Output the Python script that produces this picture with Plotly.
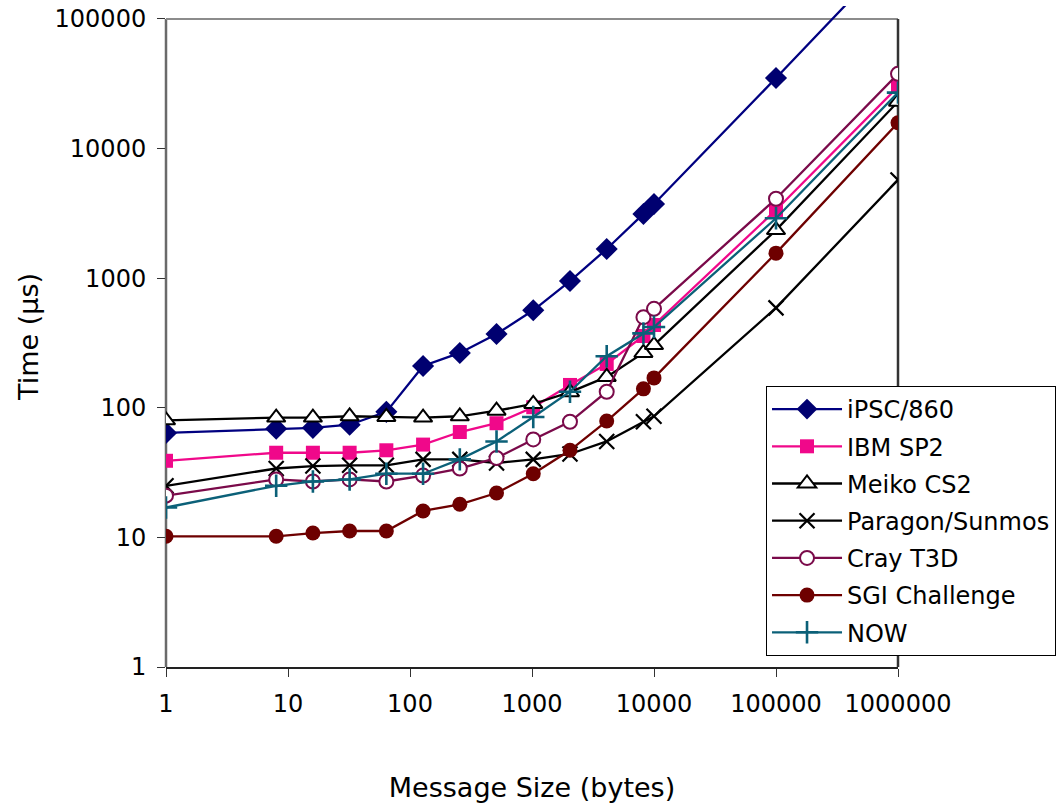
import plotly.graph_objects as go

sizes = [1, 8, 16, 32, 64, 128, 256, 512, 1024, 2048, 4096, 8192, 10000, 100000, 1000000]

ipsc860 = [64, 69, 70, 74, 93, 210, 265, 371, 565, 950, 1680, 3130, 3740, 35000, 340000]
ibm_sp2 = [39, 45, 45, 45, 47, 52, 65, 76, 101, 150, 218, 358, 435, 3360, 29900]
meiko_cs2 = [80, 84, 84, 86, 85, 84, 86, 95, 107, 132, 173, 265, 305, 2350, 23000]
paragon = [25, 34, 35.5, 36, 36, 40, 40, 37.5, 40, 44, 55, 78, 86, 590, 5730]
cray_t3d = [21, 28, 27, 28, 27, 30, 34, 41, 57, 78, 133, 500, 580, 4100, 37700]
sgi_challenge = [10.2, 10.2, 10.8, 11.2, 11.2, 16, 18, 22, 31, 47, 79, 140, 170, 1560, 15800]
now = [17, 25, 27, 28, 31, 31, 40, 55, 85, 133, 250, 375, 420, 2900, 27000]

x_tickvals = [1, 10, 100, 1000, 10000, 100000, 1000000]
x_ticktext = ["1", "10", "100", "1000", "10000", "100000", "1000000"]
y_tickvals = [1, 10, 100, 1000, 10000, 100000]
y_ticktext = ["1", "10", "100", "1000", "10000", "100000"]

FONT = "DejaVu Sans"

series = [
    ("iPSC/860", ipsc860, dict(color="#000070", line_color="#000070", symbol="diamond", size=17, lw=0), "#000080"),
    ("IBM SP2", ibm_sp2, dict(color="#F0088A", line_color="#F0088A", symbol="square", size=14, lw=0), "#F0088A"),
    ("Meiko CS2", meiko_cs2, dict(color="white", line_color="black", symbol="triangle-up", size=16, lw=2), "black"),
    ("Paragon/Sunmos", paragon, dict(color="black", line_color="black", symbol="x-thin", size=15, lw=2.2), "black"),
    ("Cray T3D", cray_t3d, dict(color="white", line_color="#7A0A4A", symbol="circle", size=14, lw=2), "#7A0A4A"),
    ("SGI Challenge", sgi_challenge, dict(color="#6E0000", line_color="#6E0000", symbol="circle", size=15, lw=0), "#6E0000"),
    ("NOW", now, dict(color="#0B6078", line_color="#0B6078", symbol="cross-thin", size=16, lw=2.6), "#0B6078"),
]

fig = go.Figure()
for i, (name, vals, m, lc) in enumerate(series):
    fig.add_trace(go.Scatter(
        x=sizes, y=vals, name=name, mode="lines+markers",
        legendgroup=f"g{i}",
        line=dict(color=lc, width=2.3),
        marker=dict(symbol=m["symbol"], size=m["size"], color=m["color"],
                    line=dict(color=m["line_color"], width=m["lw"])),
    ))

YMAX = 5.1
ytop = 5.0 / YMAX
frame = dict(xref="paper", yref="paper", layer="below")
fig.add_shape(type="line", x0=0, x1=0, y0=0, y1=ytop, line=dict(color="#6a6a6a", width=2.5), **frame)
fig.add_shape(type="line", x0=0, x1=1, y0=ytop, y1=ytop, line=dict(color="#8c8c8c", width=2), **frame)
fig.add_shape(type="line", x0=1, x1=1, y0=0, y1=ytop, line=dict(color="#333333", width=2.5), **frame)

fig.update_layout(
    width=1057, height=804,
    paper_bgcolor="white", plot_bgcolor="rgba(0,0,0,0)",
    margin=dict(l=166, r=159, t=6, b=137, autoexpand=False),
    font=dict(family=FONT, size=24, color="black"),
    showlegend=True,
    legend=dict(
        x=0.8197, y=0.4251, xanchor="left", yanchor="top",
        bgcolor="white", bordercolor="black", borderwidth=1,
        font=dict(family=FONT, size=24, color="black"),
        tracegroupgap=3, itemwidth=70,
    ),
    xaxis=dict(
        type="log", range=[0, 6], tickvals=x_tickvals, ticktext=x_ticktext,
        showgrid=False, zeroline=False, showline=True, linecolor="#222222", linewidth=2,
        ticks="outside", ticklen=8, tickcolor="#333333", tickwidth=1,
        ticklabelstandoff=6, automargin=False, ticklabeloverflow="allow",
        title=dict(text="Message Size (bytes)", standoff=61, font=dict(family=FONT, size=27)),
    ),
    yaxis=dict(
        type="log", range=[0, YMAX], tickvals=y_tickvals, ticktext=y_ticktext,
        showgrid=False, zeroline=False, showline=False,
        ticks="outside", ticklen=8, tickcolor="#333333", tickwidth=1,
        ticklabelstandoff=6, automargin=False, ticklabeloverflow="allow",
        title=dict(text="Time (µs)", standoff=8, font=dict(family=FONT, size=27)),
    ),
    xaxis2=dict(
        type="log", range=[0, 6], tickvals=x_tickvals, overlaying="x", anchor="y", side="bottom",
        showticklabels=False, showgrid=False, zeroline=False, showline=False,
        ticks="inside", ticklen=8, tickcolor="#333333", tickwidth=1, automargin=False,
    ),
    yaxis2=dict(
        type="log", range=[0, YMAX], tickvals=y_tickvals, overlaying="y", anchor="x", side="left",
        showticklabels=False, showgrid=False, zeroline=False, showline=False,
        ticks="inside", ticklen=8, tickcolor="#333333", tickwidth=1, automargin=False,
    ),
)

fig.write_html("out.html", config={"displayModeBar": False},
               post_script="document.body.style.margin='0';")
